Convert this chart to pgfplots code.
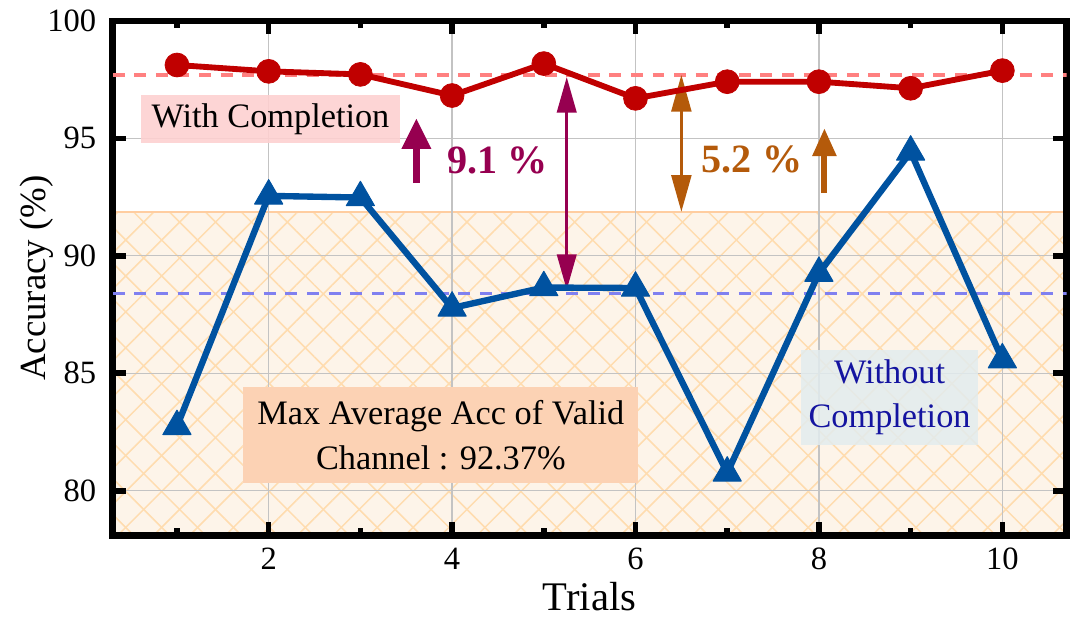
\documentclass[border=0pt]{standalone}
\usepackage{fontspec}
\setmainfont{Liberation Serif}
\usepackage{pgfplots}
\pgfplotsset{compat=1.18}
\usetikzlibrary{arrows.meta,patterns.meta}
\definecolor{redline}{RGB}{192,0,0}
\definecolor{blueline}{RGB}{0,82,160}
\definecolor{reddash}{RGB}{255,128,128}
\definecolor{bluedash}{RGB}{128,128,240}
\definecolor{bandfill}{RGB}{253,244,233}
\definecolor{bandhatch}{RGB}{255,220,175}
\definecolor{bandtop}{RGB}{255,205,160}
\definecolor{magarrow}{RGB}{150,0,80}
\definecolor{brownarrow}{RGB}{180,90,10}
\definecolor{navytext}{RGB}{20,20,160}
\definecolor{pinkbox}{RGB}{253,208,208}
\definecolor{peachbox}{RGB}{252,210,180}
\definecolor{greybox}{RGB}{226,236,238}
\definecolor{gridgray}{RGB}{195,195,195}
\begin{document}
\begin{tikzpicture}
\begin{axis}[
 set layers,
 scale only axis, width=375.5pt, height=202.6pt,
 xmin=0.3, xmax=10.7, ymin=78.1, ymax=100,
 xtick={2,4,6,8,10}, minor xtick={1,3,5,7,9},
 ytick={80,85,90,95,100},
 tick align=inside,
 major tick length=5.2pt, minor tick length=2.9pt,
 every tick/.style={black, line width=2.2pt},
 axis line style={line width=2.6pt},
 grid=major, major grid style={gridgray, line width=0.55pt},
 tick label style={font=\fontsize{12.8}{15}\selectfont},
 /pgf/number format/assume math mode=true,
 xticklabel style={yshift=-1.5pt},
 yticklabel style={xshift=-3pt},
 xlabel={Trials}, ylabel={Accuracy (\%)},
 xlabel style={font=\fontsize{16}{19}\selectfont, at={(axis description cs:0.5,0)}, anchor=base, yshift=-29.4pt},
 ylabel style={font=\fontsize{14.5}{17}\selectfont, at={(axis description cs:-0.0796,0.5)}, anchor=center},
]
% band
\addplot[on layer=axis background, draw=none, fill=bandfill, mark=none] coordinates {(0.3,78.1) (10.7,78.1) (10.7,91.86) (0.3,91.86)} -- cycle;
\addplot[on layer=axis background, draw=none, pattern={Lines[angle=45,distance=10pt,line width=0.6pt]}, pattern color=bandhatch, mark=none] coordinates {(0.3,78.1) (10.7,78.1) (10.7,91.86) (0.3,91.86)} -- cycle;
\addplot[on layer=axis background, draw=none, pattern={Lines[angle=-45,distance=10pt,line width=0.6pt]}, pattern color=bandhatch, mark=none] coordinates {(0.3,78.1) (10.7,78.1) (10.7,91.86) (0.3,91.86)} -- cycle;
\addplot[on layer=axis background, bandtop, line width=0.8pt, mark=none] coordinates {(0.3,91.86) (10.7,91.86)};
% average lines
\addplot[reddash, line width=1.3pt, dash pattern=on 4.7pt off 3.8pt, mark=none] coordinates {(0.3,97.7) (10.7,97.7)};
\addplot[bluedash, line width=1.3pt, dash pattern=on 4.7pt off 3.8pt, mark=none] coordinates {(0.3,88.41) (10.7,88.41)};
% arrows
\addplot[magarrow, line width=2.6pt, mark=none, -{Triangle[width=11pt,length=12pt]}] coordinates {(3.61,93.09) (3.61,95.85)};
\addplot[magarrow, line width=1.2pt, mark=none, {Triangle[width=7.6pt,length=14pt]}-{Triangle[width=7.6pt,length=14pt]}] coordinates {(5.25,88.55) (5.25,97.61)};
\addplot[brownarrow, line width=1.2pt, mark=none, {Triangle[width=7.8pt,length=14.5pt]}-{Triangle[width=7.8pt,length=14.5pt]}] coordinates {(6.5,91.87) (6.5,97.70)};
\addplot[brownarrow, line width=2.4pt, mark=none, -{Triangle[width=9pt,length=11pt]}] coordinates {(8.06,92.67) (8.06,95.43)};
% data
\addplot[redline, line width=2.3pt, mark=*, mark size=4.7pt, mark options={solid, fill=redline, line width=0.3pt}] coordinates {(1,98.12) (2,97.85) (3,97.72) (4,96.82) (5,98.18) (6,96.70) (7,97.41) (8,97.41) (9,97.13) (10,97.88)};
\addplot[blueline, line width=2.5pt, line join=round, mark=triangle*, mark size=6.4pt, mark options={solid, fill=blueline, line width=0.4pt}] coordinates {(1,82.74) (2,92.55) (3,92.48) (4,87.78) (5,88.65) (6,88.63) (7,80.76) (8,89.26) (9,94.42) (10,85.58)};
% texts
\node[font=\bfseries\fontsize{15.8}{18}\selectfont, text=magarrow] at (axis cs:4.5,94.05) {9.1 \%};
\node[font=\bfseries\fontsize{15.8}{18}\selectfont, text=brownarrow] at (axis cs:7.27,94.08) {5.2 \%};
\node[fill=pinkbox, fill opacity=0.9, text opacity=1, minimum width=101.6pt, minimum height=19pt, inner sep=0pt, font=\fontsize{13.5}{17.7}\selectfont] at (axis cs:2.02,95.82) {With Completion};
\node[fill=peachbox, minimum width=155.5pt, minimum height=37.8pt, inner sep=0pt, align=center, font=\fontsize{13.5}{17.7}\selectfont] at (axis cs:3.877,82.38) {Max Average Acc of Valid\\Channel : 92.37\%};
\node[fill=greybox, fill opacity=0.85, text opacity=1, text=navytext, minimum width=69.9pt, minimum height=37.4pt, inner sep=0pt, align=center, font=\fontsize{13.5}{17.7}\selectfont] at (axis cs:8.77,83.98) {Without\\Completion};
\end{axis}
\pgfresetboundingbox
\path[use as bounding box] ([shift={(-44.4pt,-32.2pt)}]current axis.south west) rectangle ([shift={(5.3pt,8.2pt)}]current axis.north east);
\end{tikzpicture}
\end{document}
